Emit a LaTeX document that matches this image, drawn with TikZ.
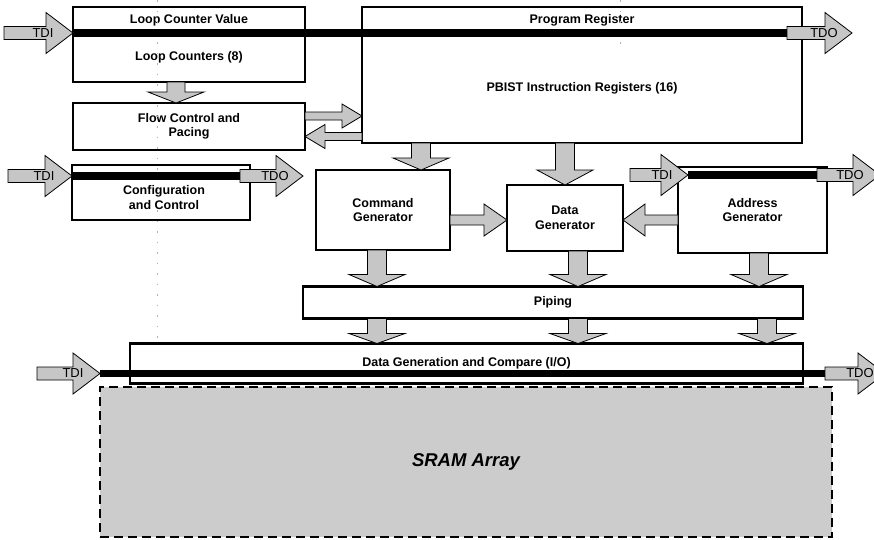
\documentclass[tikz,border=0pt]{standalone}
\usepackage{fontspec}
\setmainfont{Liberation Sans}
\usetikzlibrary{calc}
\usetikzlibrary{positioning}

\tikzset{
  box/.style={draw, fill=white, line width=2.6pt, outer sep=0pt, inner sep=2pt, align=center,
    font=\fontsize{12.5}{14.5}\selectfont\bfseries},
  regbox/.style={box, line width=1.6pt},
  boxtext/.style={align=center, inner sep=0pt, font=\fontsize{12.5}{14.5}\selectfont\bfseries},
  scan/.style={line width=7.5pt},
  port/.style={inner sep=0pt, font=\fontsize{13}{14}\selectfont},
  guide/.style={draw=gray!60, line width=0.9pt, dash pattern=on 1.5pt off 9pt},
  sram/.style={draw, fill=gray!40, line width=1.8pt, dash pattern=on 9pt off 5pt, outer sep=0pt,
    font=\fontsize{18.5}{21}\selectfont\bfseries\itshape},
  arshaft/.store in=\arshaft, arhead/.store in=\arhead, arheadlen/.store in=\arheadlen,
  arshaft=9.5pt, arhead=28pt, arheadlen=14pt,
  portarrow/.style={arshaft=6.5pt, arhead=20.5pt, arheadlen=27pt},
  thinarrow/.style={arshaft=4pt, arhead=12pt, arheadlen=20pt},
  sidearrow/.style={arshaft=5pt, arhead=16pt, arheadlen=23pt},
  arrowbody/.style={fill=gray!45, draw=black, line width=0.8pt}
}

% fat block arrow from #2 to #3
\newcommand{\fatarrow}[3][]{%
  \begin{scope}[#1]
  \coordinate (fa) at (#2);
  \coordinate (fb) at (#3);
  \coordinate (fn) at ($(fb)!\arheadlen!(fa)$);
  \filldraw[arrowbody] ($(fa)!\arshaft!90:(fb)$) -- ($(fn)!\arshaft!90:(fb)$)
    -- ($(fn)!\arhead!90:(fb)$) -- (fb) -- ($(fn)!\arhead!-90:(fb)$)
    -- ($(fn)!\arshaft!-90:(fb)$) -- ($(fa)!\arshaft!-90:(fb)$) -- cycle;
  \end{scope}}

\begin{document}
\begin{tikzpicture}[x=1pt,y=-1pt]
  \useasboundingbox (0,0) rectangle (874,539);

  \node[sram, minimum width=732, minimum height=150] (sram) at (466,462) {SRAM Array};

  \node[regbox, minimum width=232, minimum height=26] (lcv) at (189,20) {Loop Counter Value};
  \node[box, minimum width=232, minimum height=49, below=0pt of lcv] (lc) {Loop Counters (8)};
  \node[box, minimum width=232, minimum height=47, below=21pt of lc] (fc) {Flow Control and\\Pacing};
  \node[regbox, minimum width=440, minimum height=26] (prog) at (582,20) {Program Register};
  \node[box, minimum width=440, minimum height=110, below=0pt of prog] (pbist) {PBIST Instruction Registers (16)};
  \node[box, minimum width=178, minimum height=55] (cfg) at (161,192.5) {};
  \node[boxtext] (cfgtxt) at ($(cfg.center)+(3,5)$) {Configuration\\and Control};
  \node[box, minimum width=134, minimum height=80] (cmd) at (383,210) {Command\\Generator};
  \node[box, minimum width=116, minimum height=66] (data) at (565,218) {Data\\Generator};
  \node[box, minimum width=149, minimum height=86] (addr) at (752.5,210) {Address\\Generator};
  \node[box, minimum width=500, minimum height=32] (piping) at (553,302.5) {Piping};
  \node[box, minimum width=673, minimum height=40] (dgc) at (466.5,363.5) {Data Generation and Compare (I/O)};

  \draw[guide] (157,0) -- (157,345);
  \draw[guide] (620,0) -- (620,46);

  % scan chain through the registers
  \coordinate (tdi1) at (4,33);
  \coordinate (tdo1) at (852,33);
  \draw[scan] (lcv.south west) -- (prog.south east);
  \fatarrow[portarrow]{tdi1}{lcv.south west}
  \fatarrow[portarrow]{$(prog.south east)+(-15,0)$}{tdo1}
  \node[port] (tdi1t) at ($(lcv.south west)+(-30,0)$) {TDI};
  \node[port] (tdo1t) at ($(tdo1)+(-28,0)$) {TDO};

  \coordinate (cfgl) at ($(cfg.north west)+(0,11)$);
  \coordinate (cfgr) at ($(cfg.north east)+(0,11)$);
  \coordinate (tdi2) at (8,176);
  \coordinate (tdo2) at ($(cfgr)+(53,0)$);
  \draw[scan] (cfgl) -- (cfgr);
  \fatarrow[portarrow]{tdi2}{cfgl}
  \fatarrow[portarrow]{$(cfgr)+(-10,0)$}{tdo2}
  \node[port] (tdi2t) at ($(cfgl)+(-28,0)$) {TDI};
  \node[port] (tdo2t) at ($(tdo2)+(-28,0)$) {TDO};

  \coordinate (addrl) at ($(addr.north west)+(10,8)$);
  \coordinate (addrr) at ($(addr.north east)+(-10,8)$);
  \coordinate (tdi3) at (630,175);
  \coordinate (tdo3) at (880,175);
  \draw[scan] (addrl) -- (addrr);
  \fatarrow[portarrow]{tdi3}{addrl}
  \fatarrow[portarrow]{addrr}{tdo3}
  \node[port] (tdi3t) at ($(addrl)+(-26,0)$) {TDI};
  \node[port] (tdo3t) at ($(tdo3)+(-30,0)$) {TDO};

  \coordinate (dgcl) at ($(dgc.west)+(-30,10)$);
  \coordinate (dgcr) at ($(dgc.east)+(22,10)$);
  \coordinate (tdi4) at (37,373.5);
  \coordinate (tdo4) at (885,373.5);
  \draw[scan] (dgcl) -- (dgcr);
  \fatarrow[portarrow]{tdi4}{dgcl}
  \fatarrow[portarrow]{dgcr}{tdo4}
  \node[port] (tdi4t) at ($(dgcl)+(-27,0)$) {TDI};
  \node[port] (tdo4t) at ($(tdo4)+(-25,0)$) {TDO};

  % data flow
  \fatarrow[arshaft=9pt, arheadlen=11pt]{$(lc.south)+(-13,0)$}{$(fc.north)+(-13,0)$}
  \fatarrow[thinarrow]{$(fc.east)+(0,-10.5)$}{$(fc.east -| pbist.west)+(0,-10.5)$}
  \fatarrow[thinarrow]{$(fc.east -| pbist.west)+(0,10)$}{$(fc.east)+(0,10)$}
  \fatarrow[arheadlen=12pt]{$(pbist.south -| cmd.north)+(38,0)$}{$(cmd.north)+(38,0)$}
  \fatarrow[arheadlen=15pt]{pbist.south -| data.north}{data.north}
  \fatarrow[sidearrow]{$(cmd.east)+(0,10)$}{$(cmd.east -| data.west)+(0,10)$}
  \fatarrow[sidearrow, arheadlen=22pt]{$(addr.west)+(0,10)$}{$(addr.west -| data.east)+(0,10)$}
  \fatarrow[arheadlen=12pt]{$(cmd.south)+(-6,0)$}{$(cmd.south |- piping.north)+(-6,0)$}
  \fatarrow[arheadlen=12pt]{$(data.south)+(13,0)$}{$(data.south |- piping.north)+(13,0)$}
  \fatarrow[arheadlen=12pt]{$(addr.south)+(6.5,0)$}{$(addr.south |- piping.north)+(6.5,0)$}
  \fatarrow[arheadlen=10pt]{$(piping.south -| cmd.south)+(-6,0)$}{$(dgc.north -| cmd.south)+(-6,0)$}
  \fatarrow[arheadlen=10pt]{$(piping.south -| data.south)+(13,0)$}{$(dgc.north -| data.south)+(13,0)$}
  \fatarrow[arheadlen=10pt]{$(piping.south -| addr.south)+(14.5,0)$}{$(dgc.north -| addr.south)+(14.5,0)$}
\end{tikzpicture}
\end{document}
